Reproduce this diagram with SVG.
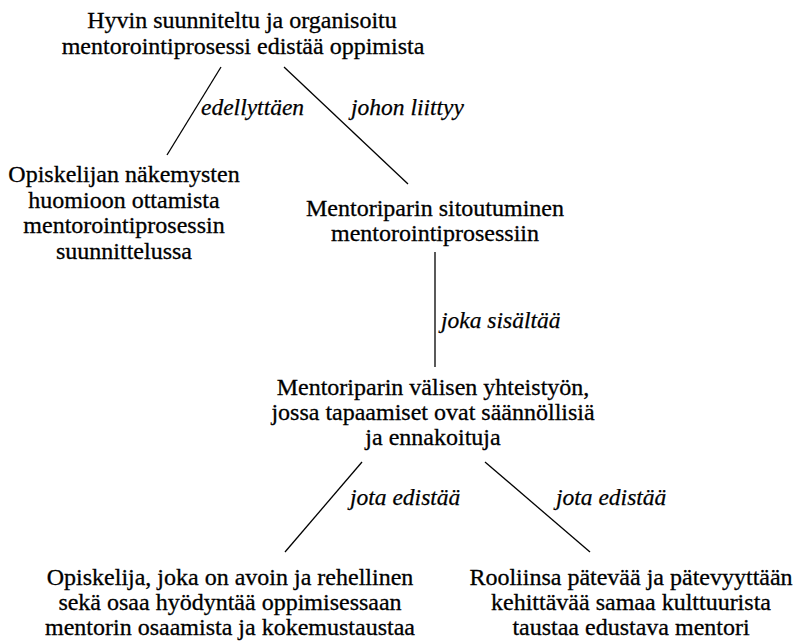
<svg xmlns="http://www.w3.org/2000/svg" width="798" height="641" viewBox="0 0 798 641">
  <style>
    .node { font-family: "Liberation Serif", "Times New Roman", serif; font-size: 24px; fill: #000; stroke: #000; stroke-width: 0.3; text-anchor: middle; }
    .lbl { font-family: "Liberation Serif", "Times New Roman", serif; font-size: 23.5px; font-style: italic; fill: #000; stroke: #000; stroke-width: 0.25; }
    .edge { stroke: #000; stroke-width: 1.3; fill: none; }
  </style>
  <rect width="798" height="641" fill="#fff"/>

  <g id="connectors">
    <line class="edge" x1="221" y1="67" x2="167" y2="155"/>
    <line class="edge" x1="284" y1="67" x2="408" y2="184"/>
    <line class="edge" x1="435" y1="252" x2="435" y2="367"/>
    <line class="edge" x1="362" y1="462" x2="285" y2="552"/>
    <line class="edge" x1="485" y1="462" x2="590" y2="552"/>
    <text class="lbl" x="201" y="115">edellyttäen</text>
    <text class="lbl" x="351" y="115">johon liittyy</text>
    <text class="lbl" x="441" y="328">joka sisältää</text>
    <text class="lbl" x="350" y="505">jota edistää</text>
    <text class="lbl" x="556" y="505">jota edistää</text>
  </g>

  <g id="n-prosessi">
    <text class="node" x="242" y="28">Hyvin suunniteltu ja organisoitu</text>
    <text class="node" x="243" y="54">mentorointiprosessi edistää oppimista</text>
  </g>

  <g id="n-opiskelijan-nakemykset">
    <text class="node" x="124" y="182">Opiskelijan näkemysten</text>
    <text class="node" x="124" y="208">huomioon ottamista</text>
    <text class="node" x="124" y="233">mentorointiprosessin</text>
    <text class="node" x="124" y="259">suunnittelussa</text>
  </g>

  <g id="n-sitoutuminen">
    <text class="node" x="435" y="216">Mentoriparin sitoutuminen</text>
    <text class="node" x="435" y="241">mentorointiprosessiin</text>
  </g>

  <g id="n-yhteistyo">
    <text class="node" x="433" y="395">Mentoriparin välisen yhteistyön,</text>
    <text class="node" x="433" y="420">jossa tapaamiset ovat säännöllisiä</text>
    <text class="node" x="433" y="445">ja ennakoituja</text>
  </g>

  <g id="n-opiskelija">
    <text class="node" x="230" y="585">Opiskelija, joka on avoin ja rehellinen</text>
    <text class="node" x="230" y="610">sekä osaa hyödyntää oppimisessaan</text>
    <text class="node" x="230" y="635">mentorin osaamista ja kokemustaustaa</text>
  </g>

  <g id="n-mentori">
    <text class="node" x="631" y="585">Rooliinsa pätevää ja pätevyyttään</text>
    <text class="node" x="631" y="610">kehittävää samaa kulttuurista</text>
    <text class="node" x="631" y="635">taustaa edustava mentori</text>
  </g>
</svg>
